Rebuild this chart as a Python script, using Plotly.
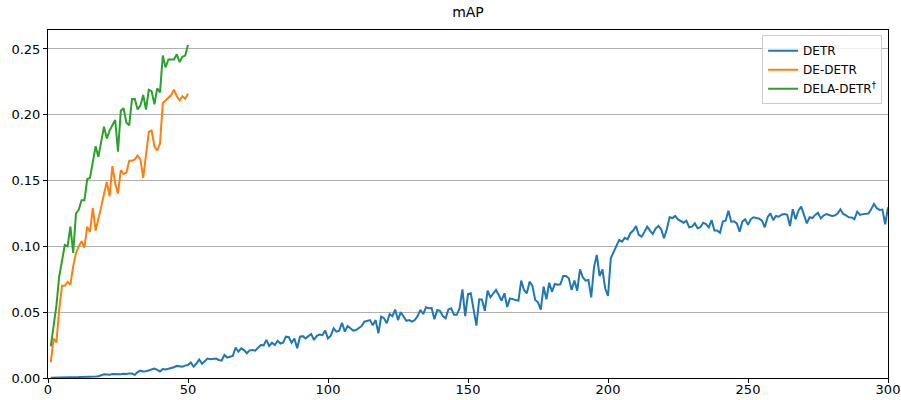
import plotly.graph_objects as go

detr_epochs = list(range(1, 301))
detr_map = [
    0.0002, 0.0002, 0.0003, 0.0003, 0.0004, 0.0004, 0.0005, 0.0005, 0.0006, 0.0006,
    0.0007, 0.0008, 0.0008, 0.0009, 0.0010, 0.0011, 0.0012, 0.0014, 0.0020, 0.0028,
    0.0026, 0.0024, 0.0030, 0.0029, 0.0031, 0.0028, 0.0033, 0.0030, 0.0035, 0.0034,
    0.0024, 0.0045, 0.0056, 0.0050, 0.0052, 0.0058, 0.0063, 0.0072, 0.0062, 0.0050,
    0.0068, 0.0065, 0.0070, 0.0075, 0.0082, 0.0092, 0.0088, 0.0086, 0.0094, 0.0098,
    0.0118, 0.0086, 0.0110, 0.0140, 0.0108, 0.0130, 0.0148, 0.0142, 0.0145, 0.0148,
    0.0137, 0.0132, 0.0175, 0.0155, 0.0162, 0.0168, 0.0232, 0.0200, 0.0225, 0.0212,
    0.0188, 0.0210, 0.0212, 0.0208, 0.0230, 0.0250, 0.0248, 0.0290, 0.0243, 0.0268,
    0.0250, 0.0283, 0.0262, 0.0270, 0.0314, 0.0310, 0.0268, 0.0300, 0.0226, 0.0314,
    0.0318, 0.0300, 0.0318, 0.0334, 0.0289, 0.0320, 0.0330, 0.0325, 0.0360, 0.0300,
    0.0322, 0.0378, 0.0352, 0.0360, 0.0420, 0.0352, 0.0395, 0.0375, 0.0360, 0.0365,
    0.0380, 0.0395, 0.0428, 0.0435, 0.0440, 0.0400, 0.0440, 0.0340, 0.0466, 0.0454,
    0.0416, 0.0485, 0.0470, 0.0520, 0.0440, 0.0500, 0.0470, 0.0435, 0.0440, 0.0428,
    0.0440, 0.0470, 0.0517, 0.0486, 0.0537, 0.0530, 0.0532, 0.0446, 0.0517, 0.0510,
    0.0470, 0.0454, 0.0520, 0.0530, 0.0480, 0.0480, 0.0530, 0.0674, 0.0470, 0.0638,
    0.0644, 0.0517, 0.0398, 0.0598, 0.0595, 0.0510, 0.0663, 0.0613, 0.0640, 0.0669,
    0.0630, 0.0587, 0.0644, 0.0540, 0.0605, 0.0600, 0.0595, 0.0587, 0.0740, 0.0669,
    0.0644, 0.0732, 0.0700, 0.0593, 0.0575, 0.0520, 0.0694, 0.0598, 0.0724, 0.0656,
    0.0714, 0.0708, 0.0712, 0.0775, 0.0775, 0.0757, 0.0669, 0.0740, 0.0663, 0.0826,
    0.0765, 0.0740, 0.0745, 0.0613, 0.0841, 0.0935, 0.0775, 0.0826, 0.0680, 0.0623,
    0.0910, 0.0960, 0.1000, 0.1049, 0.1036, 0.1065, 0.1054, 0.1100, 0.1120, 0.1155,
    0.1087, 0.1074, 0.1110, 0.1150, 0.1120, 0.1094, 0.1135, 0.1155, 0.1130, 0.1062,
    0.1130, 0.1221, 0.1215, 0.1231, 0.1205, 0.1190, 0.1180, 0.1195, 0.1145, 0.1150,
    0.1175, 0.1137, 0.1145, 0.1180, 0.1170, 0.1145, 0.1200, 0.1120, 0.1120, 0.1104,
    0.1188, 0.1195, 0.1271, 0.1188, 0.1190, 0.1175, 0.1112, 0.1188, 0.1206, 0.1163,
    0.1206, 0.1221, 0.1215, 0.1210, 0.1195, 0.1145, 0.1221, 0.1251, 0.1200, 0.1231,
    0.1225, 0.1240, 0.1246, 0.1240, 0.1155, 0.1282, 0.1206, 0.1271, 0.1302, 0.1239,
    0.1175, 0.1221, 0.1215, 0.1239, 0.1256, 0.1213, 0.1235, 0.1246, 0.1240, 0.1231,
    0.1235, 0.1250, 0.1282, 0.1246, 0.1235, 0.1221, 0.1220, 0.1206, 0.1264, 0.1239,
    0.1245, 0.1246, 0.1250, 0.1282, 0.1322, 0.1290, 0.1277, 0.1280, 0.1168, 0.1297,
]

short_epochs = list(range(1, 51))
dedetr_map = [
    0.012, 0.030, 0.027, 0.052, 0.070, 0.070, 0.073, 0.071, 0.085, 0.095,
    0.100, 0.104, 0.099, 0.115, 0.111, 0.129, 0.112, 0.120, 0.130, 0.140,
    0.149, 0.138, 0.161, 0.148, 0.140, 0.158, 0.155, 0.156, 0.165, 0.165,
    0.166, 0.169, 0.166, 0.152, 0.170, 0.187, 0.188, 0.176, 0.173, 0.178,
    0.209, 0.211, 0.213, 0.215, 0.219, 0.214, 0.211, 0.214, 0.212, 0.216,
]
deladetr_map = [
    0.024, 0.040, 0.055, 0.077, 0.088, 0.101, 0.100, 0.115, 0.095, 0.125,
    0.128, 0.135, 0.135, 0.151, 0.152, 0.163, 0.176, 0.168, 0.181, 0.191,
    0.182, 0.188, 0.192, 0.196, 0.172, 0.203, 0.205, 0.194, 0.192, 0.212,
    0.212, 0.204, 0.207, 0.215, 0.204, 0.219, 0.218, 0.208, 0.220, 0.217,
    0.245, 0.236, 0.242, 0.242, 0.242, 0.246, 0.240, 0.244, 0.245, 0.253,
]

series_names = ["DETR", "DE-DETR", "DELA-DETR<sup>†</sup>"]
colors = ["#1f77b4", "#ff7f0e", "#2ca02c"]
x_ticks = [0, 50, 100, 150, 200, 250, 300]
y_ticks = [0.0, 0.05, 0.10, 0.15, 0.20, 0.25]

fig = go.Figure()
for name, xs, ys, c in [
    (series_names[0], detr_epochs, detr_map, colors[0]),
    (series_names[1], short_epochs, dedetr_map, colors[1]),
    (series_names[2], short_epochs, deladetr_map, colors[2]),
]:
    fig.add_trace(go.Scatter(x=xs, y=ys, mode="lines", name=name,
                             line=dict(color=c, width=2)))

font = "DejaVu Sans, sans-serif"
fig.update_layout(
    width=901, height=400,
    margin=dict(l=48, r=13, t=30, b=22, autoexpand=False),
    paper_bgcolor="white", plot_bgcolor="white",
    font=dict(family=font, size=13, color="black"),
    title=dict(text="mAP", x=0.5, xref="paper", y=0.97, yref="container",
               xanchor="center", yanchor="middle", font=dict(size=14)),
    legend=dict(x=0.993, y=0.985, xanchor="right", yanchor="top",
                bgcolor="rgba(255,255,255,0.8)", bordercolor="#cccccc",
                borderwidth=1, font=dict(size=12), tracegroupgap=0),
    showlegend=True,
)
fig.update_xaxes(range=[0, 300], tickvals=x_ticks, showgrid=False, zeroline=False,
                 showline=True, linecolor="black", linewidth=1, mirror=True,
                 ticks="outside", ticklen=4, tickcolor="black", automargin=False,
                 tickfont=dict(size=13), ticklabelstandoff=-5)
fig.update_yaxes(range=[0, 0.2644], tickvals=y_ticks, tickformat=".2f",
                 showgrid=True, gridcolor="#b0b0b0", gridwidth=1, zeroline=False,
                 showline=True, linecolor="black", linewidth=1, mirror=True,
                 ticks="outside", ticklen=4, tickcolor="black", automargin=False,
                 tickfont=dict(size=13))

fig.write_html("out.html", config={"displayModeBar": False},
               post_script="document.body.style.margin='0';document.body.style.overflow='hidden';")
